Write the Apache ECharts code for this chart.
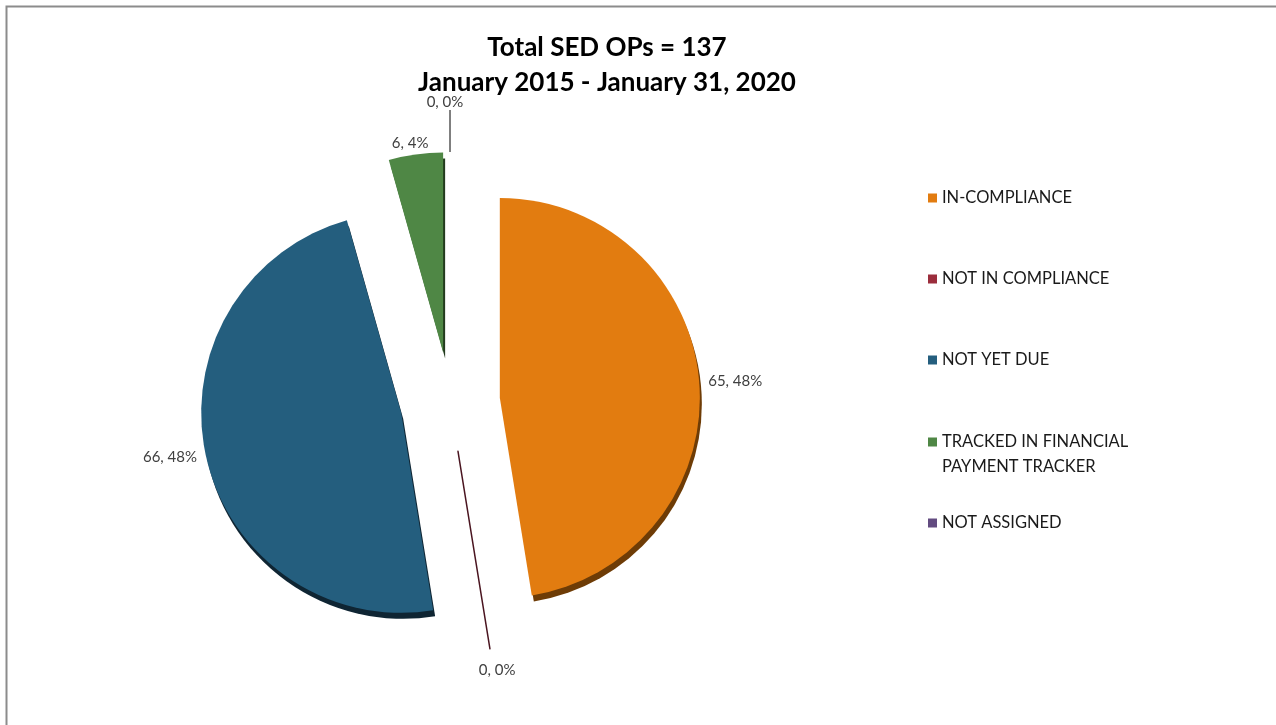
<!DOCTYPE html>
<html>
<head>
<meta charset="utf-8">
<script src="https://cdn.jsdelivr.net/npm/echarts@6/dist/echarts.min.js"></script>
<style>
  html, body { margin: 0; padding: 0; background: #fff; }
  #main { width: 1276px; height: 725px; }
</style>
</head>
<body>
<div id="main"></div>
<script>
// data
var titleText = 'Total SED OPs = 137\nJanuary 2015 - January 31, 2020';
var statusNames = ['IN-COMPLIANCE', 'NOT IN COMPLIANCE', 'NOT YET DUE', 'TRACKED IN FINANCIAL PAYMENT TRACKER', 'NOT ASSIGNED'];
// blank first line keeps the square level with the first text line
var legendText = ['IN-COMPLIANCE', 'NOT IN COMPLIANCE', 'NOT YET DUE', '\nTRACKED IN FINANCIAL\nPAYMENT TRACKER', 'NOT ASSIGNED'];
var opCounts = [65, 0, 66, 6, 0];

var colors = ['#E27C10', '#9B2D3C', '#245E7E', '#4F8745', '#624B80'];
var sideColors = ['#6E3C06', '#5a1a24', '#0F2533', '#233B1E', '#3a2c4d'];
var legendTops = [185.5, 266.5, 347.5, 404.5, 510.5];

var chart = echarts.init(document.getElementById('main'));

var pieData = statusNames.map(function (n, i) {
    var zero = opCounts[i] === 0;
    var item = {
        name: n,
        value: opCounts[i],
        selected: true,
        itemStyle: {
            color: colors[i],
            borderWidth: 0,
            shadowColor: zero ? 'rgba(0,0,0,0)' : sideColors[i],
            shadowBlur: 0,
            shadowOffsetX: 2,
            shadowOffsetY: 6
        },
        labelLine: { show: false, length: 4, length2: 0 }
    };
    if (zero && i === 1) {
        // the empty slice shows up as a thin line
        item.itemStyle.borderColor = '#4a1520';
        item.itemStyle.borderWidth = 1.5;
        item.labelLine = { show: false, length: 14, length2: 0 };
    }
    if (zero && i === 4) {
        item.labelLine = { show: true, length: 42, length2: 0, lineStyle: { color: '#000', width: 1 } };
    }
    return item;
});

var legends = statusNames.map(function (n, i) {
    return {
        data: [n],
        orient: 'vertical',
        left: 928,
        top: legendTops[i],
        padding: 0,
        icon: 'rect',
        itemWidth: 9,
        itemHeight: 9,
        itemGap: 0,
        itemStyle: { borderWidth: 0, shadowBlur: 0, shadowOffsetX: 0, shadowOffsetY: 0 },
        formatter: function () { return legendText[i]; },
        textStyle: {
            fontFamily: 'Lato',
            fontSize: 16.5,
            color: '#1a1a1a',
            lineHeight: 25
        }
    };
});

var option = {
    backgroundColor: '#ffffff',
    animation: false,
    graphic: [{
        type: 'rect',
        left: 4,
        top: 4,
        shape: { width: 1300, height: 760 },
        style: { fill: 'none', stroke: '#8c8c8c', lineWidth: 2 },
        silent: true
    }],
    title: {
        text: titleText,
        left: 607,
        top: 30,
        padding: 0,
        textAlign: 'center',
        textStyle: {
            fontFamily: 'Lato',
            fontWeight: 'bold',
            fontSize: 26,
            lineHeight: 35,
            color: '#000'
        }
    },
    legend: legends,
    series: [{
        type: 'pie',
        center: [450, 402],
        radius: 200,
        startAngle: 90,
        clockwise: true,
        selectedMode: 'multiple',
        selectedOffset: 50,
        percentPrecision: 0,
        emphasis: { disabled: true },
        label: {
            show: true,
            position: 'outside',
            formatter: '{c}, {d}%',
            fontFamily: 'Lato',
            fontSize: 15,
            color: '#404040'
        },
        labelLayout: function (p) {
            var pts = p.labelLinePoints;
            if (!pts) return;
            var start = pts[0], end = pts[pts.length - 1];
            var dx = end[0] - start[0], dy = end[1] - start[1];
            // labels that sit straight above or below a slice are centred on it
            if (Math.abs(dy) > Math.abs(dx) * 2) {
                var up = dy < 0;
                var shift = opCounts[p.dataIndex] === 0 ? (up ? 5 : 8) : 0;
                return {
                    x: end[0] + shift,
                    y: end[1] + (up ? -3 : 3),
                    align: 'center',
                    verticalAlign: up ? 'bottom' : 'top',
                    labelLinePoints: [start, [start[0], end[1]]]
                };
            }
        },
        data: pieData
    }]
};

chart.setOption(option);
</script>
</body>
</html>
